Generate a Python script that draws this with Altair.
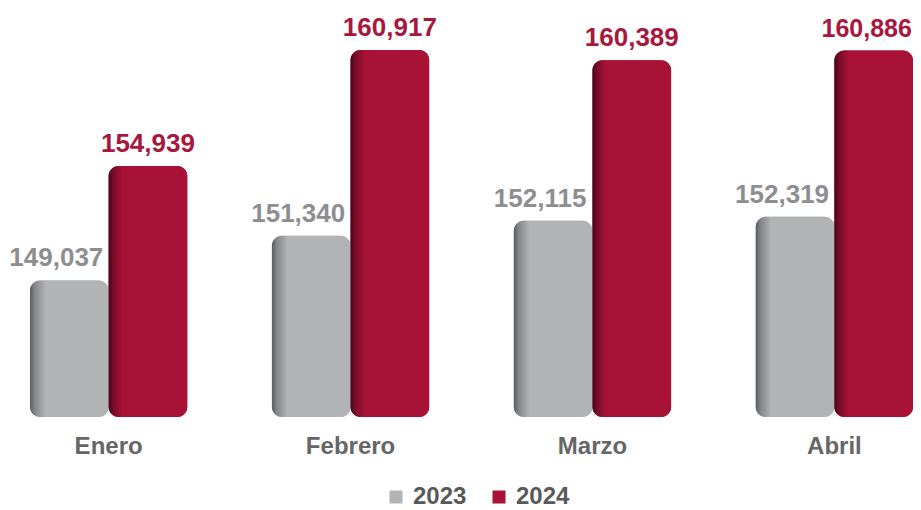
import altair as alt
import pandas as pd

months = ["Enero", "Febrero", "Marzo", "Abril"]
years = ["2023", "2024"]
v2023 = [149037, 151340, 152115, 152319]
v2024 = [154939, 160917, 160389, 160886]

GRAY = "#b1b3b5"
RED = "#a81237"
FONT = "Liberation Sans"

rows = []
for m, a, b in zip(months, v2023, v2024):
    rows.append({"mes": m, "anio": "2023", "valor": a})
    rows.append({"mes": m, "anio": "2024", "valor": b})
df = pd.DataFrame(rows)
df["etiqueta"] = df["valor"].map(lambda v: f"{v:,}")

BASE = 142000
TOP = 163082

x_enc = alt.X("mes:N", sort=months,
              scale=alt.Scale(paddingInner=0.35, paddingOuter=0, range=[22, 905]),
              axis=alt.Axis(title=None, domain=False, ticks=False, labelAngle=0,
                            labelFont=FONT, labelFontSize=24, labelFontWeight="bold",
                            labelColor="#666666", labelPadding=17))
xo_enc = alt.XOffset("anio:N", sort=years, scale=alt.Scale(paddingInner=0, paddingOuter=0))
y_enc = alt.Y("valor:Q", scale=alt.Scale(domain=[BASE, TOP], zero=False, nice=False),
              axis=None)
y2_enc = alt.Y2(datum=BASE)

base = alt.Chart(df)

legend_bars = base.mark_bar(cornerRadius=10).encode(
    x=x_enc, xOffset=xo_enc, y=y_enc, y2=y2_enc,
    color=alt.Color("anio:N", sort=years,
                    scale=alt.Scale(domain=years, range=[GRAY, RED]),
                    legend=alt.Legend(title=None, orient="none", direction="horizontal",
                                      legendX=376, legendY=477,
                                      symbolType="square", symbolSize=169,
                                      symbolStrokeWidth=0, labelFont=FONT,
                                      labelFontSize=24, labelFontWeight="bold",
                                      labelColor="#595959", labelOffset=5,
                                      columnPadding=20)),
)

gray_grad = alt.Gradient(
    gradient="linear", x1=0, x2=1, y1=0, y2=0,
    stops=[alt.GradientStop(color="#5a5b5d", offset=0),
           alt.GradientStop(color="#85868a", offset=0.06),
           alt.GradientStop(color=GRAY, offset=0.2),
           alt.GradientStop(color=GRAY, offset=1)])
red_grad = alt.Gradient(
    gradient="linear", x1=0, x2=1, y1=0, y2=0,
    stops=[alt.GradientStop(color="#45061a", offset=0),
           alt.GradientStop(color="#760c28", offset=0.06),
           alt.GradientStop(color=RED, offset=0.18),
           alt.GradientStop(color=RED, offset=1)])

bars23 = base.transform_filter(alt.datum.anio == "2023").mark_bar(
    cornerRadius=10, color=gray_grad).encode(x=x_enc, xOffset=xo_enc, y=y_enc, y2=y2_enc)
bars24 = base.transform_filter(alt.datum.anio == "2024").mark_bar(
    cornerRadius=10, color=red_grad).encode(x=x_enc, xOffset=xo_enc, y=y_enc, y2=y2_enc)

txt23 = base.transform_filter(alt.datum.anio == "2023").mark_text(
    font=FONT, fontSize=26, fontWeight="bold", color="#8e8e90",
    baseline="alphabetic", dy=-14, dx=-13).encode(
    x=x_enc, xOffset=xo_enc, y=y_enc, text="etiqueta:N")
txt24 = base.transform_filter(
    (alt.datum.anio == "2024") & (alt.datum.mes != "Abril")).mark_text(
    font=FONT, fontSize=26, fontWeight="bold", color="#a8173d",
    baseline="alphabetic", dy=-14).encode(
    x=x_enc, xOffset=xo_enc, y=y_enc, text="etiqueta:N")
# last label sits against the right edge of the canvas: nudge it inwards
txt24_last = base.transform_filter(
    (alt.datum.anio == "2024") & (alt.datum.mes == "Abril")).mark_text(
    font=FONT, fontSize=25, fontWeight="bold", color="#a8173d",
    baseline="alphabetic", dy=-14, dx=-7).encode(
    x=x_enc, xOffset=xo_enc, y=y_enc, text="etiqueta:N")

chart = alt.layer(legend_bars, bars23, bars24, txt23, txt24, txt24_last).properties(
    width=905, height=409, background="white",
    autosize=alt.AutoSizeParams(type="none"),
    padding={"left": 0, "top": 0, "right": 0, "bottom": 94},
).configure_view(strokeWidth=0)

chart.save("out.html", embed_options={"renderer": "svg", "actions": False})
